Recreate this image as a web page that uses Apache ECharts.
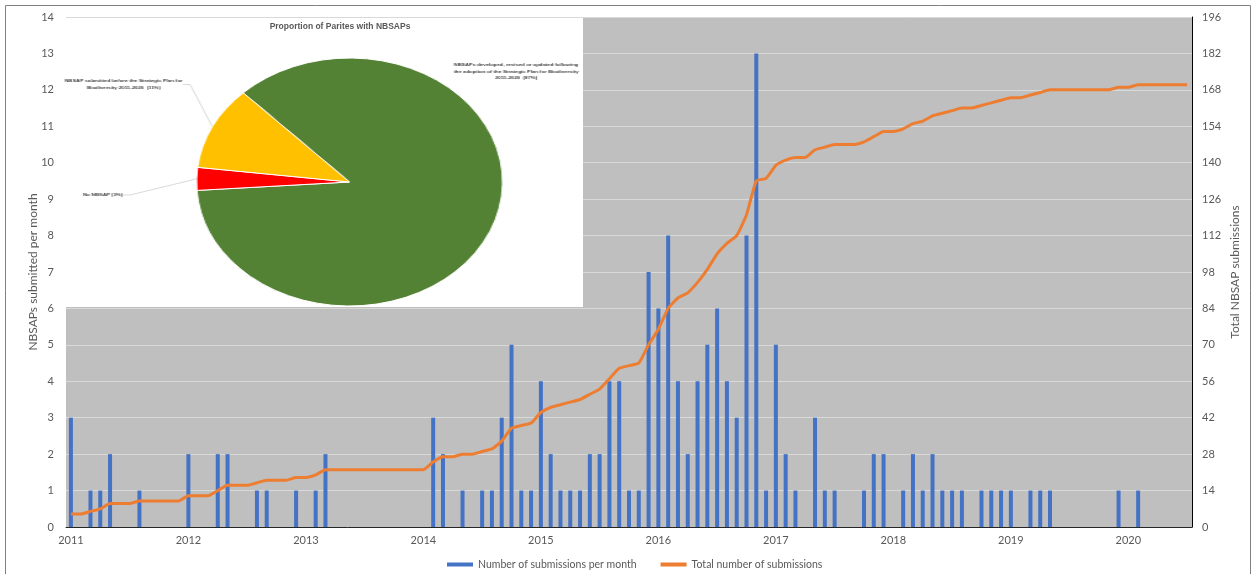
<!DOCTYPE html>
<html>
<head>
<meta charset="utf-8">
<script src="https://cdn.jsdelivr.net/npm/echarts@6/dist/echarts.min.js"></script>
<style>
  html, body { margin: 0; padding: 0; background: #fff; }
  #wrap { position: relative; width: 1256px; height: 574px; }
  #main { width: 1256px; height: 574px; }
  /* the inset pie is stretched sideways like in the source picture */
  #pie {
    position: absolute; left: 62px; top: 18px;
    width: 422px; height: 289px;
    transform: scaleX(1.234); transform-origin: 0 0;
    pointer-events: none;
  }
</style>
</head>
<body>
<div id="wrap">
  <div id="main"></div>
  <div id="pie"></div>
</div>
<script>
// data
const years = ['2011', '2012', '2013', '2014', '2015', '2016', '2017', '2018', '2019', '2020']

// submissions per month, Jan..Dec
const perMonth2011 = [3, 0, 1, 1, 2, 0, 0, 1, 0, 0, 0, 0]
const perMonth2012 = [2, 0, 0, 2, 2, 0, 0, 1, 1, 0, 0, 1]
const perMonth2013 = [0, 1, 2, 0, 0, 0, 0, 0, 0, 0, 0, 0]
const perMonth2014 = [0, 3, 2, 0, 1, 0, 1, 1, 3, 5, 1, 1]
const perMonth2015 = [4, 2, 1, 1, 1, 2, 2, 4, 4, 1, 1, 7]
const perMonth2016 = [6, 8, 4, 2, 4, 5, 6, 4, 3, 8, 13, 1]
const perMonth2017 = [5, 2, 1, 0, 3, 1, 1, 0, 0, 1, 2, 2]
const perMonth2018 = [0, 1, 2, 1, 2, 1, 1, 1, 0, 1, 1, 1]
const perMonth2019 = [1, 0, 1, 1, 1, 0, 0, 0, 0, 0, 0, 1]
const perMonth2020 = [0, 1, 0, 0, 0, 0, 0]

// running total
const total2011 = [5, 5, 6, 7, 9, 9, 9, 10, 10, 10, 10, 10]
const total2012 = [12, 12, 12, 14, 16, 16, 16, 17, 18, 18, 18, 19]
const total2013 = [19, 20, 22, 22, 22, 22, 22, 22, 22, 22, 22, 22]
const total2014 = [22, 25, 27, 27, 28, 28, 29, 30, 33, 38, 39, 40]
const total2015 = [44, 46, 47, 48, 49, 51, 53, 57, 61, 62, 63, 70]
const total2016 = [76, 84, 88, 90, 94, 99, 105, 109, 112, 120, 133, 134]
const total2017 = [139, 141, 142, 142, 145, 146, 147, 147, 147, 148, 150, 152]
const total2018 = [152, 153, 155, 156, 158, 159, 160, 161, 161, 162, 163, 164]
const total2019 = [165, 165, 166, 167, 168, 168, 168, 168, 168, 168, 168, 169]
const total2020 = [169, 170, 170, 170, 170, 170, 170]

const pieNames = [
  'NBSAPs developed, revised or updated following\nthe adoption of the Strategic Plan for Biodiversity\n2011-2020  (87%)',
  'No NBSAP (3%)',
  'NBSAP submitted before the Strategic Plan for\nBiodiversity 2011-2020  (11%)'
]
const pieValues = [87, 3, 11]
const pieColors = ['#548235', '#ff0000', '#ffc000']

const perMonth = [].concat(perMonth2011, perMonth2012, perMonth2013, perMonth2014, perMonth2015,
  perMonth2016, perMonth2017, perMonth2018, perMonth2019, perMonth2020)
const totals = [].concat(total2011, total2012, total2013, total2014, total2015,
  total2016, total2017, total2018, total2019, total2020)

const months = []
for (let i = 0; i < perMonth.length; i++) {
  const y = years[Math.floor(i / 12)]
  const m = (i % 12) + 1
  months.push(y + '-' + (m < 10 ? '0' + m : m))
}

const GREY = '#595959'
const FONT = 'Lato'

const mainChart = echarts.init(document.getElementById('main'))
mainChart.setOption({
  animation: false,
  textStyle: { fontFamily: FONT },
  title: {
    text: 'Proportion of Parites with NBSAPs',
    left: 335, top: 17, textAlign: 'center', z: 10,
    textStyle: { fontSize: 8.5, fontWeight: 'bold', color: GREY, fontFamily: 'Liberation Sans' }
  },
  graphic: [
    // white panel behind the inset pie
    { type: 'rect', z: 5, shape: { x: 62, y: 18, width: 521, height: 289 }, style: { fill: '#fff' } },
    { type: 'rect', z: 5, shape: { x: 5.5, y: 5.5, width: 1245, height: 600 },
      style: { fill: 'none', stroke: '#808080', lineWidth: 1 } }
  ],
  legend: {
    left: 442, top: 554,
    itemWidth: 26, itemHeight: 4, itemGap: 24,
    textStyle: { color: GREY, fontSize: 10.5 },
    data: [
      { name: 'Number of submissions per month', icon: 'rect' },
      { name: 'Total number of submissions', icon: 'rect' }
    ]
  },
  grid: {
    left: 66, right: 64, top: 17, bottom: 47,
    show: true, backgroundColor: '#bfbfbf', borderWidth: 0
  },
  xAxis: [
    {
      type: 'category', data: months, boundaryGap: true,
      axisLine: { lineStyle: { color: '#262626' } },
      axisTick: { interval: 0, length: 3, lineStyle: { color: '#262626' } },
      axisLabel: {
        interval: function (i) { return i % 12 === 0 },
        formatter: function (v) { return v.slice(0, 4) },
        color: GREY, fontSize: 11, margin: 8
      },
      splitLine: { show: false }
    },
    {
      // longer ticks at the year boundaries
      type: 'category', data: months, boundaryGap: true, position: 'bottom',
      axisLine: { show: false },
      axisTick: { interval: function (i) { return i % 12 === 0 }, length: 7, lineStyle: { color: '#262626' } },
      axisLabel: { show: false },
      splitLine: { show: false }
    }
  ],
  yAxis: [
    {
      type: 'value', min: 0, max: 14, interval: 1,
      name: 'NBSAPs submitted per month', nameLocation: 'middle', nameGap: 27,
      nameMoveOverlap: false,
      nameTextStyle: { color: GREY, fontSize: 12 },
      axisLine: { show: false }, axisTick: { show: false },
      axisLabel: { color: GREY, fontSize: 11, margin: 12 },
      splitLine: { lineStyle: { color: '#d9d9d9' } }
    },
    {
      type: 'value', min: 0, max: 196, interval: 14, position: 'right',
      name: 'Total NBSAP submissions', nameLocation: 'middle', nameGap: 37,
      nameMoveOverlap: false,
      nameTextStyle: { color: GREY, fontSize: 12 },
      axisLine: { show: true, lineStyle: { color: '#000' } }, axisTick: { show: false },
      axisLabel: { color: GREY, fontSize: 11, margin: 10 },
      splitLine: { show: false }
    }
  ],
  series: [
    {
      name: 'Number of submissions per month', type: 'bar', data: perMonth,
      yAxisIndex: 0, barWidth: 4,
      itemStyle: { color: '#4472c4' }
    },
    {
      name: 'Total number of submissions', type: 'line', data: totals,
      yAxisIndex: 1, smooth: 0.15, showSymbol: false,
      lineStyle: { color: '#ed7d31', width: 3 },
      itemStyle: { color: '#ed7d31' }
    }
  ]
})

// inset pie
const labelSpots = [
  { x: 368, y: 44, align: 'center', verticalAlign: 'top' },
  { x: 33, y: 177, align: 'center', verticalAlign: 'middle' },
  { x: 50, y: 60, align: 'center', verticalAlign: 'top' }
]

const pieChart = echarts.init(document.getElementById('pie'))
pieChart.setOption({
  animation: false,
  series: [{
    type: 'pie',
    center: [233, 164], radius: 124,
    startAngle: 134, clockwise: true,
    avoidLabelOverlap: false,
    itemStyle: { borderColor: '#fff', borderWidth: 1 },
    label: {
      show: true, position: 'outside', formatter: '{b}',
      fontSize: 4.3, fontWeight: 'bold', lineHeight: 6.5,
      color: '#404040', fontFamily: 'Liberation Sans', align: 'center'
    },
    labelLine: { show: true, length: 6, length2: 6, lineStyle: { color: '#bfbfbf', width: 0.6 } },
    labelLayout: function (p) { return labelSpots[p.dataIndex] },
    emphasis: { disabled: true },
    data: pieNames.map(function (n, i) {
      return {
        name: n, value: pieValues[i],
        itemStyle: { color: pieColors[i] },
        labelLine: { show: i !== 0 }
      }
    })
  }]
})
</script>
</body>
</html>
